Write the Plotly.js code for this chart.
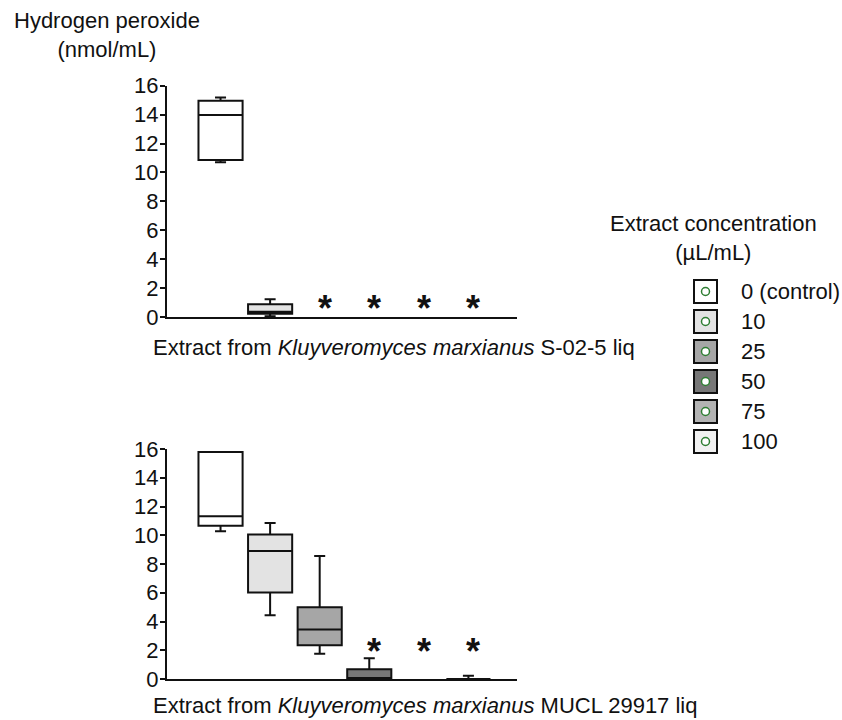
<!DOCTYPE html>
<html>
<head>
<meta charset="utf-8">
<script src="https://cdn.plot.ly/plotly-3.0.1.min.js"></script>
<style>html,body{margin:0;padding:0;background:#fff;}#chart{width:842px;height:720px;}</style>
</head>
<body>
<div id="chart"></div>
<script>
// ---- data ----
const categories = [0, 1, 2, 3, 4, 5];
const concLabels = ['0 (control)', '10', '25', '50', '75', '100'];

// Top panel: Kluyveromyces marxianus S-02-5 liq
const topMin    = [10.70, 0.05, null, null, null, null];
const topQ1     = [10.86, 0.23, null, null, null, null];
const topMedian = [13.97, 0.37, null, null, null, null];
const topQ3     = [14.96, 0.88, null, null, null, null];
const topMax    = [15.19, 1.22, null, null, null, null];
const topStars  = [false, false, true, true, true, true];
const topStarY  = [null, null, 1.13, 1.13, 1.13, 1.13];

// Bottom panel: Kluyveromyces marxianus MUCL 29917 liq
const botMin    = [10.27, 4.43, 1.75, 0.00, null, 0.00];
const botQ1     = [10.66, 6.02, 2.35, 0.00, null, 0.00];
const botMedian = [11.33, 8.91, 3.44, 0.02, null, 0.00];
const botQ3     = [15.80, 10.06, 4.99, 0.67, null, 0.00];
const botMax    = [15.80, 10.85, 8.56, 1.45, null, 0.23];
const botStars  = [false, false, false, true, true, true];
const botStarY  = [null, null, null, 2.48, 2.48, 2.48];

const yTicks = [0, 2, 4, 6, 8, 10, 12, 14, 16];

// ---- styles ----
const fills = ['#ffffff', '#e3e3e3', '#a6a6a6', '#777777', '#b3b3b3', '#f1f1f1'];
const ink = '#111111';
const FONT = 'Arial, "Liberation Sans", sans-serif';

const traces = [];
function addBoxes(mins, q1s, meds, q3s, maxs, xa, ya) {
  categories.forEach((c, i) => {
    if (q1s[i] === null) return;
    traces.push({
      type: 'box', x: [c],
      lowerfence: [mins[i]], q1: [q1s[i]], median: [meds[i]], q3: [q3s[i]], upperfence: [maxs[i]],
      width: 0.89, whiskerwidth: 0.25, boxpoints: false,
      fillcolor: fills[i], line: { color: ink, width: 2 },
      xaxis: xa, yaxis: ya, showlegend: false, hoverinfo: 'skip'
    });
  });
}
addBoxes(topMin, topQ1, topMedian, topQ3, topMax, 'x', 'y');
addBoxes(botMin, botQ1, botMedian, botQ3, botMax, 'x2', 'y2');

const W = 842, H = 720;
const px = v => v / W, py = v => 1 - v / H;

const annotations = [];
function addStars(stars, ys, xref, yref) {
  categories.forEach((c, i) => {
    if (!stars[i]) return;
    annotations.push({
      x: c, y: ys[i], xref: xref, yref: yref, text: '*', showarrow: false,
      xshift: 5, yshift: -8, font: { family: FONT, size: 36, color: ink, weight: 'bold' }
    });
  });
}
addStars(topStars, topStarY, 'x', 'y');
addStars(botStars, botStarY, 'x2', 'y2');

annotations.push({
  x: px(107), y: py(35), xref: 'paper', yref: 'paper', xanchor: 'center', yanchor: 'middle',
  text: 'Hydrogen peroxide<br>(nmol/mL)', showarrow: false, align: 'center',
  font: { family: FONT, size: 22, color: ink }
});
annotations.push({
  x: px(151), y: py(347), xref: 'paper', yref: 'paper', xanchor: 'left', yanchor: 'middle',
  text: 'Extract from <i>Kluyveromyces marxianus</i> S-02-5 liq', showarrow: false,
  font: { family: FONT, size: 22, color: ink }
});
annotations.push({
  x: px(151), y: py(705), xref: 'paper', yref: 'paper', xanchor: 'left', yanchor: 'middle',
  text: 'Extract from <i>Kluyveromyces marxianus</i> MUCL 29917 liq', showarrow: false,
  font: { family: FONT, size: 22, color: ink }
});
annotations.push({
  x: px(713), y: py(238), xref: 'paper', yref: 'paper', xanchor: 'center', yanchor: 'middle',
  text: 'Extract concentration<br>(µL/mL)', showarrow: false, align: 'center',
  font: { family: FONT, size: 22, color: ink }
});

const shapes = [];
concLabels.forEach((lab, i) => {
  const cy = 291.5 + 30 * i, cx = 705.5, h = 11.5, r = 4;
  shapes.push({
    type: 'rect', xref: 'paper', yref: 'paper',
    x0: px(cx - h), x1: px(cx + h), y0: py(cy + h), y1: py(cy - h),
    fillcolor: fills[i], line: { color: ink, width: 2 }
  });
  shapes.push({
    type: 'circle', xref: 'paper', yref: 'paper',
    x0: px(cx - r), x1: px(cx + r), y0: py(cy + r), y1: py(cy - r),
    fillcolor: '#ffffff', line: { color: '#2e7d32', width: 1.5 }
  });
  annotations.push({
    x: px(739), y: py(cy), xref: 'paper', yref: 'paper', xanchor: 'left', yanchor: 'middle',
    text: lab, showarrow: false, font: { family: FONT, size: 22, color: ink }
  });
});

const xAxisBase = {
  range: [-1.08, 5.98], showline: true, linecolor: ink, linewidth: 2,
  showticklabels: false, ticks: '', showgrid: false, zeroline: false, fixedrange: true
};
const yAxisBase = {
  range: [0, 16], tickvals: yTicks, showline: true, linecolor: ink, linewidth: 2,
  ticks: 'outside', ticklen: 5, tickwidth: 2, tickcolor: ink, ticklabelstandoff: -3,
  tickfont: { family: FONT, size: 22, color: ink },
  showgrid: false, zeroline: false, fixedrange: true
};

const layout = {
  width: W, height: H,
  margin: { l: 0, r: 0, t: 0, b: 0 },
  paper_bgcolor: '#ffffff', plot_bgcolor: '#ffffff',
  showlegend: false,
  xaxis: Object.assign({}, xAxisBase, { domain: [px(167), px(517)], anchor: 'y' }),
  yaxis: Object.assign({}, yAxisBase, { domain: [py(317), py(85.7)], anchor: 'x' }),
  xaxis2: Object.assign({}, xAxisBase, { domain: [px(167), px(517)], anchor: 'y2' }),
  yaxis2: Object.assign({}, yAxisBase, { domain: [py(679), py(449)], anchor: 'x2' }),
  annotations: annotations,
  shapes: shapes
};

Plotly.newPlot('chart', traces, layout, { displayModeBar: false, staticPlot: true });
</script>
</body>
</html>
